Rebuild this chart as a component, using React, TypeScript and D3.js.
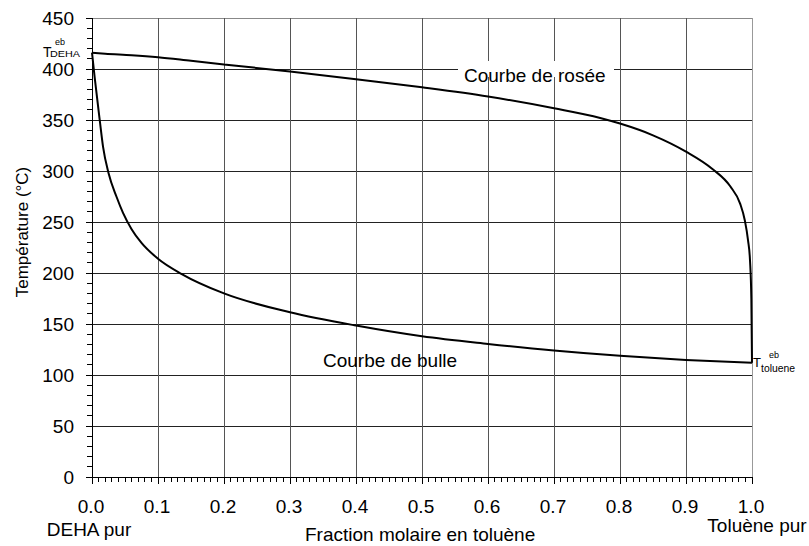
import React from "react";
import * as d3 from "d3";

const X_TICKS = [0, 0.1, 0.2, 0.3, 0.4, 0.5, 0.6, 0.7, 0.8, 0.9, 1.0];
const X_TICK_LABELS = ["0.0", "0.1", "0.2", "0.3", "0.4", "0.5", "0.6", "0.7", "0.8", "0.9", "1.0"];
const Y_TICKS = [0, 50, 100, 150, 200, 250, 300, 350, 400, 450];

// Courbe de rosée (dew curve)
const DEW_X = [0, 0.02, 0.06, 0.1, 0.15, 0.2, 0.3, 0.4, 0.5, 0.6, 0.7, 0.77, 0.8, 0.85, 0.9, 0.94, 0.967, 0.982, 0.989, 0.994, 0.997, 0.999, 1.0];
const DEW_T = [416, 415, 413.5, 411.5, 408, 404.5, 397.5, 390, 382, 373, 361.5, 352, 346.5, 335, 319, 302, 285, 268, 252, 232, 212, 175, 112];

// Courbe de bulle (bubble curve)
const BUB_X = [0, 0.004, 0.0117, 0.0167, 0.025, 0.037, 0.047, 0.06, 0.075, 0.1, 0.136, 0.2, 0.3, 0.4, 0.5, 0.6, 0.7, 0.8, 0.9, 1.0];
const BUB_T = [416, 392, 350, 324, 298, 275, 259, 243, 229.5, 214, 199, 180, 161.5, 148.5, 138, 130.5, 124, 118.8, 114.8, 112];

const FONT = "'Liberation Sans', Arial, sans-serif";

export default function App() {
  const W = 809, H = 546;
  const x = d3.scaleLinear().domain([0, 1]).range([92, 752]);
  const y = d3.scaleLinear().domain([0, 450]).range([477, 18]);

  const line = d3.line<[number, number]>().x(d => x(d[0])).y(d => y(d[1])).curve(d3.curveMonotoneX);
  const dew = line(DEW_X.map((v, i) => [v, DEW_T[i]] as [number, number])) || "";
  const bub = line(BUB_X.map((v, i) => [v, BUB_T[i]] as [number, number])) || "";

  const xMinor = d3.range(0, 101).map(i => i / 100);
  const yMinor = d3.range(0, 46).map(i => i * 10);

  return (
    <svg width={W} height={H} style={{ position: "absolute", left: 0, top: 0, background: "#fff" }} fontFamily={FONT}>
      <rect x={0} y={0} width={W} height={H} fill="#fff" />
      {/* horizontal gridlines */}
      {Y_TICKS.filter(t => t > 0).map(t => (
        <line key={"hg" + t} x1={x(0)} x2={x(1)} y1={y(t)} y2={y(t)} stroke={t === 450 ? "#888" : "#222"} strokeWidth={1} shapeRendering="crispEdges" />
      ))}
      {/* vertical gridlines */}
      {X_TICKS.filter(t => t > 0).map(t => (
        <line key={"vg" + t} x1={x(t)} x2={x(t)} y1={y(0)} y2={y(450)} stroke={t === 1 ? "#999" : "#555"} strokeWidth={1} shapeRendering="crispEdges" />
      ))}
      {/* label background */}
      <rect x={458} y={y(400) - 8} width={156} height={16} fill="#fff" />
      <text x={464} y={82} fontSize={19} fill="#000">Courbe de rosée</text>
      <text x={323} y={367} fontSize={19} fill="#000">Courbe de bulle</text>

      {/* curves */}
      <path d={dew} fill="none" stroke="#000" strokeWidth={2} strokeLinejoin="round" />
      <path d={bub} fill="none" stroke="#000" strokeWidth={2} strokeLinejoin="round" />

      {/* axes */}
      <line x1={x(0)} x2={x(0)} y1={y(0)} y2={y(450)} stroke="#000" strokeWidth={1} shapeRendering="crispEdges" />
      <line x1={x(0)} x2={x(1)} y1={y(0)} y2={y(0)} stroke="#000" strokeWidth={1} shapeRendering="crispEdges" />
      {yMinor.map(t => (
        <line key={"ym" + t} x1={x(0) - (t % 50 === 0 ? 6 : 5)} x2={x(0)} y1={y(t)} y2={y(t)} stroke="#000" strokeWidth={1} shapeRendering="crispEdges" />
      ))}
      {xMinor.map(t => (
        <line key={"xm" + t} x1={x(t)} x2={x(t)} y1={y(0)} y2={y(0) + (Math.round(t * 100) % 10 === 0 ? 7 : 5)} stroke="#000" strokeWidth={1} shapeRendering="crispEdges" />
      ))}
      {Y_TICKS.map(t => (
        <text key={"yl" + t} x={74} y={y(t)} dy="0.35em" textAnchor="end" fontSize={19} fill="#000">{t}</text>
      ))}
      {X_TICKS.map((t, i) => (
        <text key={"xl" + t} x={x(t) - 1} y={513} textAnchor="middle" fontSize={19} fill="#000">{X_TICK_LABELS[i]}</text>
      ))}

      <text x={89} y={536} textAnchor="middle" fontSize={19} fill="#000">DEHA pur</text>
      <text x={757} y={532} textAnchor="middle" fontSize={19} fill="#000">Toluène pur</text>
      <text x={305} y={541} fontSize={19} fill="#000">Fraction molaire en toluène</text>
      <text transform={`translate(28,232) rotate(-90)`} textAnchor="middle" fontSize={17} fill="#000">Température (°C)</text>

      {/* T eb DEHA */}
      <text x={43} y={57} fontSize={14} fill="#000">T</text>
      <text x={55} y={45} fontSize={9} fill="#000">eb</text>
      <text x={50} y={57} fontSize={9} fill="#000" textLength={30} lengthAdjust="spacingAndGlyphs">DEHA</text>

      {/* T eb toluene */}
      <text x={753} y={367} fontSize={13} fill="#000">T</text>
      <text x={769} y={358} fontSize={9} fill="#000">eb</text>
      <text x={761} y={372} fontSize={10} fill="#000" textLength={34} lengthAdjust="spacingAndGlyphs">toluene</text>
    </svg>
  );
}
